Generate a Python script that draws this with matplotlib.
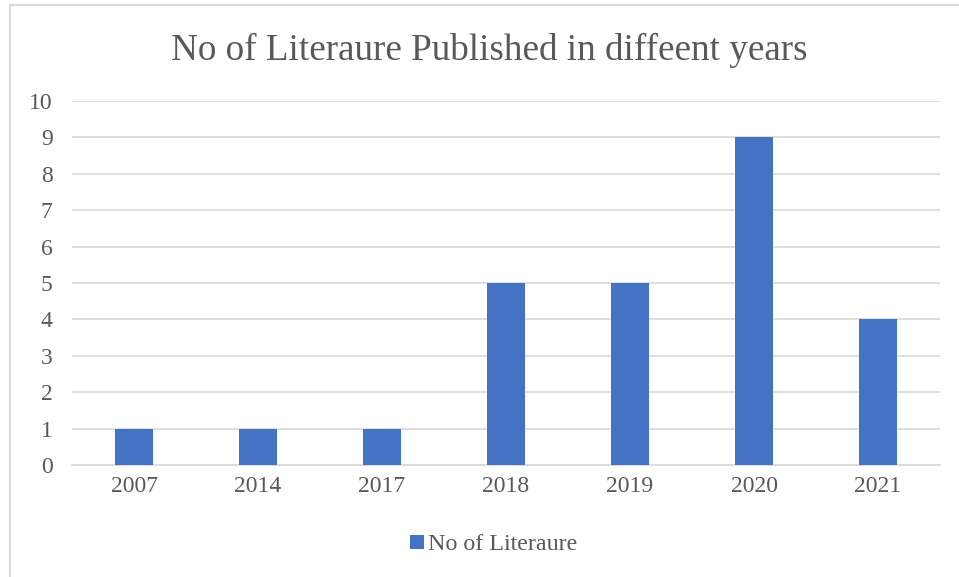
import matplotlib.pyplot as plt
from matplotlib.patches import Rectangle

years = ['2007', '2014', '2017', '2018', '2019', '2020', '2021']
counts = [1, 1, 1, 5, 5, 9, 4]

plt.rcParams['font.family'] = ['Liberation Serif', 'DejaVu Serif']
text_color = '#595959'

fig = plt.figure(figsize=(9.59, 5.77), dpi=100)
ax = fig.add_axes([72 / 959, 1 - 465 / 577, (940 - 72) / 959, (465 - 101) / 577])

# light chart border
fig.patches.append(Rectangle((10 / 959, -0.05), 1.2, 1 - 5 / 577 + 0.05,
                             transform=fig.transFigure, fill=False,
                             edgecolor='#d9d9d9', linewidth=1.5))

x = range(len(years))
ax.bar(x, counts, width=0.31, color='#4472C4', label='No of Literaure', zorder=3)

ax.set_xlim(-0.5, len(years) - 0.5)
ax.set_ylim(0, 10)
ax.set_yticks(range(0, 11))
ax.set_xticks(list(x))
ax.set_xticklabels(years)
ax.grid(axis='y', color='#d9d9d9', linewidth=1.2, zorder=0)
for s in ['top', 'right', 'left']:
    ax.spines[s].set_visible(False)
ax.spines['bottom'].set_color('#d9d9d9')
ax.spines['bottom'].set_linewidth(1.2)
ax.tick_params(axis='both', length=0, labelsize=17, colors=text_color, pad=8)
ax.tick_params(axis='y', pad=14)

fig.text(489 / 959, 1 - 50 / 577, 'No of Literaure Published in diffeent years',
         ha='center', va='center', fontsize=26.7, color=text_color)

fig.legend(loc='center', bbox_to_anchor=(494 / 959, 1 - 545 / 577), frameon=False,
           fontsize=17.3, labelcolor=text_color, handlelength=0.55, handleheight=0.55,
           handletextpad=0.2)

fig.savefig('out.png', dpi=100)
